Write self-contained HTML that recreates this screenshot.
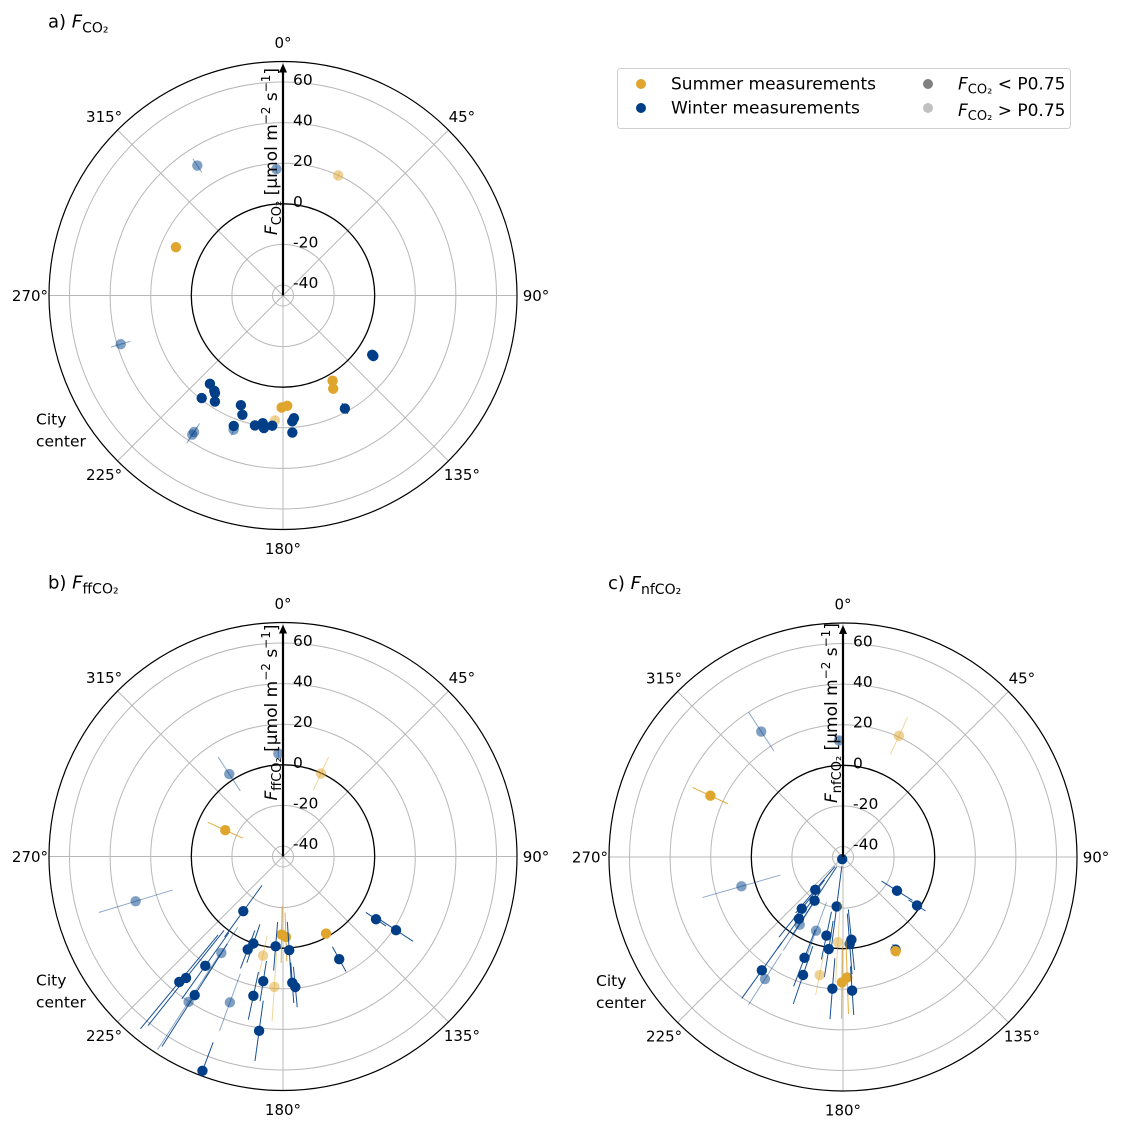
<!DOCTYPE html>
<html><head><meta charset="utf-8">
<style>
body{margin:0;background:#fff;}
svg{display:block;font-family:"DejaVu Sans","Liberation Sans",sans-serif;}
</style></head>
<body>
<svg id="chart" width="1122" height="1127" viewBox="0 0 1122 1127" xmlns="http://www.w3.org/2000/svg">
<g id="legend">
  <rect x="617.5" y="68.5" width="453" height="60" rx="3" fill="#fff" stroke="#d0d0d0"/>
  <circle cx="641" cy="84" r="5" fill="#e0a52c"/>
  <text x="671" y="89.5" font-size="17">Summer measurements</text>
  <circle cx="641" cy="108" r="5" fill="#003f87"/>
  <text x="671" y="113.5" font-size="17">Winter measurements</text>
  <circle cx="928" cy="84" r="5" fill="#808080"/>
  <text x="958" y="89.5" font-size="17"><tspan font-style="italic">F</tspan><tspan font-size="13" dy="4">CO₂</tspan><tspan dy="-4"> &lt; P0.75</tspan></text>
  <circle cx="928" cy="108" r="5" fill="#c0c0c0"/>
  <text x="958" y="116" font-size="17"><tspan font-style="italic">F</tspan><tspan font-size="13" dy="4">CO₂</tspan><tspan dy="-4"> &gt; P0.75</tspan></text>
</g>
</svg>
<script>
// Panel a: F_CO2
const aDir = [326.6,357,24.7,294.3,253.3,123.6,123.8,149.8,151.7,151.3,180.7,177.8,183.7,174.9,175.8,176.1,184.7,188.2,189,192.2,200.7,200.2,198.8,201,212.7,218.4,215.8,214.9,219.6,213.1,213.1];
const aFlux = [31.5,17.2,19.9,12.7,38.3,7.6,8.4,3.4,7,18.3,10,9.2,16.5,15.5,17,22.5,19.2,20.8,18.5,20.3,23.5,25.3,16.9,12.7,16.9,19.3,12.7,13.4,11.3,36.7,35.1];
const aErr = [4,2,2,1,5,1,1,1,1,3,1,1,2,2,2,2,2,2,2,2,2,3,1,1,1,1,1,1,1,5,5];
const aSeason = ['w','w','s','s','w','w','w','s','s','w','s','s','s','w','w','w','w','w','w','w','w','w','w','w','w','w','w','w','w','w','w'];
const aHigh = [1,1,1,0,1,0,0,0,0,0,0,0,1,0,0,0,0,0,0,0,0,1,0,0,0,0,0,0,0,1,1];

// Panel b: F_ffCO2
const bDir = [357.4,326.9,24.6,294.5,253.1,216,124,123.1,150.8,151.3,181,177.9,184.7,176.2,198.8,200.8,212.6,191.4,215.4,219.6,218.6,212.5,213,200,189,192,183.8,175.8,174.6,187.8,200.6];
const bFlux = [5.6,3.3,-0.2,-13.9,30.7,-11.9,10.1,21.3,-1.7,12.5,-6.7,-5.5,-0.8,1.1,0.1,3.8,11.2,4.6,20.9,35,31.4,35.8,40.2,31.3,17,25,19.2,17.2,19.4,41.5,67.6];
const bErr = [2,10,9,9.5,19,15.7,6,10,2,7,14,12,12,14,10,10,15,10,20,30,30,30,28,15,10,12,17,10,10,15,15];
const bSeason = ['w','w','s','s','w','w','w','w','s','w','s','s','w','w','w','w','w','s','w','w','w','w','w','w','w','w','s','w','w','w','w'];
const bHigh = [1,1,1,0,1,0,0,0,0,0,0,0,0,0,0,0,1,1,0,0,0,0,1,1,0,0,1,0,0,0,0];

// Panel c: F_nfCO2
const cDir = [326.9,358,24.8,294.8,253.9,200,122,123.2,150.4,150.8,220.2,213,218.6,215.5,212.6,187.3,200.1,191.9,188.8,183.4,174.2,175.6,200.9,198.7,191.2,180.5,178,184.6,176.1,215.6,212.6];
const cFlux = [28.6,12.3,20.6,26.8,6.9,-44,-13.8,-1.6,7.3,8,-24,-19.5,-12.6,-7.8,-5.6,-20.6,-6.5,-5.6,0.7,-3.2,-4.2,-2.2,8,16.2,14.1,16.6,14.2,19.9,20.8,23.5,26.2];
const cErr = [11.5,2,10,9.6,20,2,9,5,3,3,15,20,18,18,15,20,15,12,14,20,15,15,15,15,10,18,18,15,12,17,15];
const cSeason = ['w','w','s','s','w','w','w','w','w','s','w','w','w','w','w','w','w','w','w','s','w','w','w','w','s','s','s','w','w','w','w'];
const cHigh = [1,1,1,0,1,0,0,0,0,0,0,0,0,0,1,0,1,0,0,1,0,0,0,0,1,0,0,0,0,0,1];

const radialTicks = [60,40,20,0,-20,-40];
const angleTicks = [0,45,90,135,180,225,270,315];

const NS = 'http://www.w3.org/2000/svg';
const svg = document.getElementById('chart');
const R0 = 91.7, K = 2.03, RMAX = 234, VMIN = -45, VMAX = 70;
function rScale(v){ v = Math.max(VMIN, Math.min(VMAX, v)); return Math.max(0, R0 + K*v); }
function pt(cx,cy,deg,r){ const t = deg*Math.PI/180; return [cx + r*Math.sin(t), cy - r*Math.cos(t)]; }
function mk(tag, attrs, parent){ const e = document.createElementNS(NS, tag); for (const k in attrs) e.setAttribute(k, attrs[k]); parent.appendChild(e); return e; }

function panel(cx, cy, letter, sub, dirs, flux, errs, season, high){
  const g = mk('g', {}, svg);
  
  
  const t = mk('text', {x: cx-235, y: cy-268, 'font-size': 18}, g);
  
  
  t.innerHTML = letter + ') <tspan font-style="italic">F</tspan><tspan font-size="14" dy="5">' + sub + '</tspan>';
  [-40,-20,20,40,60].forEach(v => {
    const c = mk('circle', {cx: cx, cy: cy, r: rScale(v), fill: 'none', stroke: '#b8b8b8', 'stroke-width': 1}, g);
    
    
  });
  angleTicks.forEach(a => {
    const p = pt(cx, cy, a, RMAX);
    const l = mk('line', {x1: cx, y1: cy, x2: p[0], y2: p[1], stroke: '#b8b8b8', 'stroke-width': 1}, g);
    
    
    const q = pt(cx, cy, a, 253);
    const tx = mk('text', {x: q[0], y: q[1]+5.5, 'font-size': 15, 'text-anchor': 'middle'}, g);
    
    
    tx.textContent = a + '°';
  });
  const zc = mk('circle', {cx: cx, cy: cy, r: rScale(0), fill: 'none', stroke: '#000', 'stroke-width': 1.3}, g);
  
  
  const oc = mk('circle', {cx: cx, cy: cy, r: RMAX, fill: 'none', stroke: '#000', 'stroke-width': 1.2}, g);
  
  
  radialTicks.forEach(v => {
    const tx = mk('text', {x: cx+10, y: cy - rScale(v) + 3, 'font-size': 15.5}, g);
    
    
    tx.textContent = v;
  });
  for (let i = 0; i < dirs.length; i++){
    const col = season[i] === 's' ? '#e0a52c' : '#003f87';
    const op = high[i] ? 0.5 : 1;
    const p1 = pt(cx, cy, dirs[i], rScale(flux[i]-errs[i]));
    const p2 = pt(cx, cy, dirs[i], rScale(flux[i]+errs[i]));
    const eb = mk('line', {x1: p1[0], y1: p1[1], x2: p2[0], y2: p2[1], stroke: col, 'stroke-width': 1, opacity: op*0.9}, g);
    
    
    const p = pt(cx, cy, dirs[i], rScale(flux[i]));
    const c = mk('circle', {cx: p[0], cy: p[1], r: 5.2, fill: col, opacity: op}, g);
    
    
  }
  const ax = mk('line', {x1: cx, y1: cy, x2: cx, y2: cy-RMAX+10, stroke: '#000', 'stroke-width': 2.2}, g);
  
  
  const ah = mk('path', {d: `M${cx-4},${cy-RMAX+11} L${cx},${cy-RMAX+2} L${cx+4},${cy-RMAX+11} Z`, fill: '#000'}, g);
  
  
  const yl = mk('text', {x: 0, y: 0, 'font-size': 17, 'text-anchor': 'middle', transform: `translate(${cx-6},${cy-144}) rotate(-90)`}, g);
  
  
  yl.innerHTML = '<tspan font-style="italic">F</tspan><tspan font-size="13" dy="4">' + sub + '</tspan><tspan dy="-4"> [μmol m</tspan><tspan font-size="12" dy="-7">−2</tspan><tspan dy="7"> s</tspan><tspan font-size="12" dy="-7">−1</tspan><tspan dy="7">]</tspan>';
  const city = mk('text', {x: cx-247, y: cy+129, 'font-size': 15.5}, g);
  
  
  city.innerHTML = '<tspan x="' + (cx-247) + '">City</tspan><tspan x="' + (cx-247) + '" dy="22">center</tspan>';
}
panel(283, 295.5, 'a', 'CO₂', aDir, aFlux, aErr, aSeason, aHigh);
panel(283, 856.5, 'b', 'ffCO₂', bDir, bFlux, bErr, bSeason, bHigh);
panel(843, 857, 'c', 'nfCO₂', cDir, cFlux, cErr, cSeason, cHigh);
</script>
</body></html>
